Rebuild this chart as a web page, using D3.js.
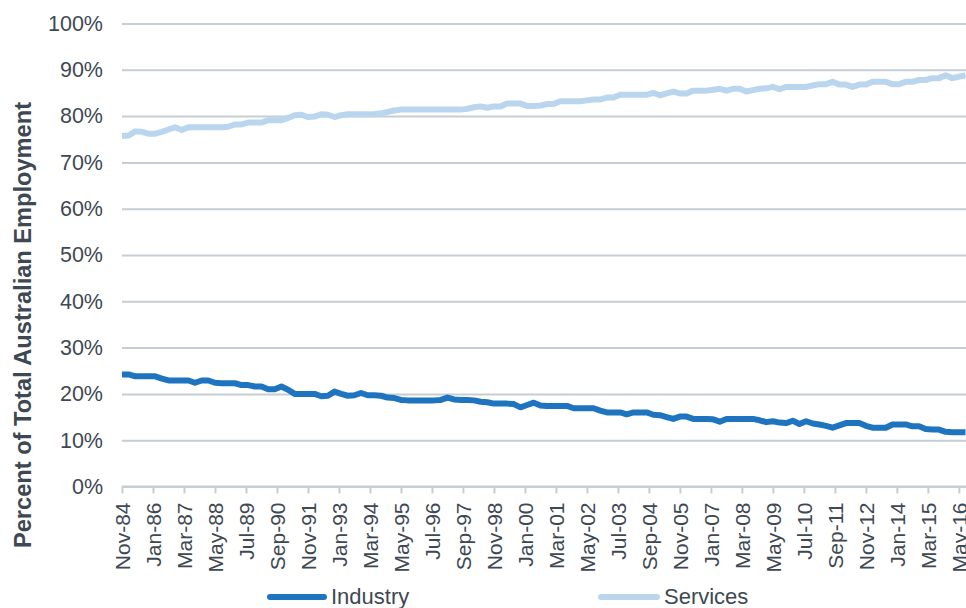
<!DOCTYPE html>
<html>
<head>
<meta charset="utf-8">
<script src="https://cdn.jsdelivr.net/npm/d3@7"></script>
<style>
  html, body { margin: 0; padding: 0; background: #fff; }
  svg { display: block; font-family: "Liberation Sans", Arial, sans-serif; }
</style>
</head>
<body>
<svg id="chart" width="966" height="608"></svg>
<script>
// Quarterly shares of total Australian employment (%), Nov-84 to Aug-16
const stepMonths = 3;                        // quarterly observations

const industry = [
  24.2, 24.2, 23.8, 23.8, 23.8, 23.8, 23.3, 22.9, 22.9, 22.9,
  22.9, 22.4, 22.9, 22.9, 22.4, 22.3, 22.3, 22.3, 21.9, 21.9,
  21.6, 21.6, 21.0, 21.0, 21.6, 20.9, 20.0, 20.0, 20.0, 20.0,
  19.5, 19.6, 20.5, 20.0, 19.6, 19.7, 20.2, 19.7, 19.7, 19.6,
  19.2, 19.1, 18.7, 18.6, 18.6, 18.6, 18.6, 18.6, 18.7, 19.2,
  18.8, 18.7, 18.7, 18.6, 18.3, 18.2, 17.9, 17.9, 17.9, 17.8,
  17.1, 17.6, 18.1, 17.5, 17.4, 17.4, 17.4, 17.4, 16.9, 16.9,
  16.9, 16.9, 16.4, 16.0, 16.0, 16.0, 15.6, 16.0, 16.0, 16.0,
  15.5, 15.4, 15.0, 14.6, 15.1, 15.1, 14.6, 14.6, 14.6, 14.5,
  14.0, 14.6, 14.6, 14.6, 14.6, 14.6, 14.3, 13.9, 14.1, 13.8,
  13.7, 14.2, 13.5, 14.1, 13.6, 13.4, 13.1, 12.7, 13.2, 13.7,
  13.7, 13.7, 13.1, 12.7, 12.7, 12.7, 13.4, 13.4, 13.4, 13.0,
  13.0, 12.4, 12.3, 12.3, 11.8, 11.7, 11.7, 11.7
];

const services = [
  75.7, 75.8, 76.7, 76.6, 76.2, 76.2, 76.6, 77.1, 77.6, 77.0,
  77.6, 77.6, 77.6, 77.6, 77.6, 77.6, 77.7, 78.2, 78.2, 78.6,
  78.6, 78.6, 79.1, 79.1, 79.1, 79.6, 80.2, 80.3, 79.8, 79.9,
  80.4, 80.3, 79.8, 80.2, 80.4, 80.4, 80.4, 80.4, 80.4, 80.6,
  80.9, 81.2, 81.4, 81.4, 81.4, 81.4, 81.4, 81.4, 81.4, 81.4,
  81.4, 81.4, 81.6, 81.9, 82.1, 81.8, 82.1, 82.1, 82.7, 82.7,
  82.7, 82.2, 82.2, 82.3, 82.6, 82.6, 83.2, 83.2, 83.2, 83.2,
  83.4, 83.6, 83.6, 84.0, 84.0, 84.6, 84.6, 84.6, 84.6, 84.6,
  85.0, 84.5, 84.9, 85.3, 84.9, 84.9, 85.5, 85.5, 85.5, 85.7,
  85.9, 85.5, 85.9, 85.9, 85.3, 85.6, 85.9, 86.0, 86.3, 85.8,
  86.3, 86.3, 86.3, 86.3, 86.6, 86.9, 86.9, 87.4, 86.8, 86.8,
  86.3, 86.8, 86.8, 87.4, 87.4, 87.4, 86.9, 86.9, 87.4, 87.4,
  87.8, 87.8, 88.2, 88.2, 88.8, 88.2, 88.5, 88.8
];

// Axis labels, one every 14 months from Nov-84
const tickLabels = [
  "Nov-84", "Jan-86", "Mar-87", "May-88", "Jul-89", "Sep-90", "Nov-91",
  "Jan-93", "Mar-94", "May-95", "Jul-96", "Sep-97", "Nov-98", "Jan-00",
  "Mar-01", "May-02", "Jul-03", "Sep-04", "Nov-05", "Jan-07", "Mar-08",
  "May-09", "Jul-10", "Sep-11", "Nov-12", "Jan-14", "Mar-15", "May-16"
];
const tickStepMonths = 14;
const yTicks = [0, 10, 20, 30, 40, 50, 60, 70, 80, 90, 100];

const seriesList = [
  { name: "Industry", values: industry, color: "#1f74bf" },
  { name: "Services", values: services, color: "#b9d6ee" }
];

const svg = d3.select("#chart");
const textColor = "#3e4853";
const gridColor = "#c6cdd4";

const lastMonth = (industry.length - 1) * stepMonths;
const x = d3.scaleLinear().domain([0, lastMonth]).range([122, 965.5]);
const y = d3.scaleLinear().domain([0, 100]).range([486.5, 23.5]);

// Horizontal gridlines and y labels
const yAxis = d3.axisLeft(y)
  .tickValues(yTicks)
  .tickSize(-(966 - 122))
  .tickPadding(19)
  .tickFormat(d => d + "%");

svg.append("g")
  .attr("transform", "translate(122,0)")
  .call(yAxis)
  .call(g => g.select(".domain").remove())
  .call(g => g.selectAll(".tick line").attr("stroke", gridColor).attr("stroke-width", 2))
  .call(g => g.selectAll(".tick text")
    .attr("fill", textColor)
    .style("font-size", "21.5px"));

// Bottom axis with month labels
const tickMonths = tickLabels.map((_, i) => i * tickStepMonths);
const xAxis = d3.axisBottom(x)
  .tickValues(tickMonths)
  .tickSize(7)
  .tickSizeOuter(0)
  .tickFormat((d, i) => tickLabels[i]);

svg.append("g")
  .attr("transform", `translate(0,${y(0)})`)
  .call(xAxis)
  .call(g => g.select(".domain").attr("stroke", gridColor).attr("stroke-width", 2).attr("d", "M122,0H966"))
  .call(g => g.selectAll(".tick line").attr("stroke", gridColor).attr("stroke-width", 2))
  .call(g => g.selectAll(".tick text")
    .attr("fill", textColor)
    .style("font-size", "21px")
    .attr("text-anchor", "end")
    .attr("transform", "rotate(-90)")
    .attr("x", -16)
    .attr("y", 0)
    .attr("dy", "0.36em"));

// Series lines
const line = d3.line()
  .x((d, i) => x(i * stepMonths))
  .y(d => y(d));

svg.append("g")
  .selectAll("path")
  .data(seriesList)
  .join("path")
  .attr("fill", "none")
  .attr("stroke", s => s.color)
  .attr("stroke-width", 6)
  .attr("stroke-linejoin", "round")
  .attr("d", s => line(s.values));

// Y axis title
svg.append("text")
  .attr("transform", "translate(23,325) rotate(-90)")
  .attr("text-anchor", "middle")
  .attr("dy", "0.35em")
  .attr("fill", textColor)
  .attr("textLength", 446)
  .attr("lengthAdjust", "spacingAndGlyphs")
  .style("font-size", "23px")
  .style("font-weight", "bold")
  .text("Percent of Total Australian Employment");

// Legend
const legendItems = [
  { s: seriesList[0], x0: 270, x1: 324, tx: 331 },
  { s: seriesList[1], x0: 601, x1: 657, tx: 664 }
];
const legend = svg.append("g");
legendItems.forEach(it => {
  legend.append("line")
    .attr("x1", it.x0).attr("x2", it.x1)
    .attr("y1", 597).attr("y2", 597)
    .attr("stroke", it.s.color)
    .attr("stroke-width", 6)
    .attr("stroke-linecap", "round");
  legend.append("text")
    .attr("x", it.tx)
    .attr("y", 604)
    .attr("fill", textColor)
    .style("font-size", "22px")
    .text(it.s.name);
});
</script>
</body>
</html>
